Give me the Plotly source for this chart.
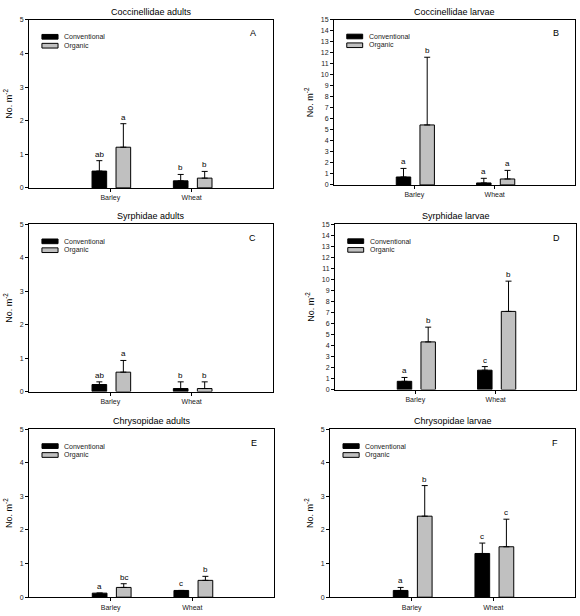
import plotly.graph_objects as go

W, H = 580, 616

crops = ["Barley", "Wheat"]
series = ["Conventional", "Organic"]
panel_titles = ["Coccinellidae adults", "Coccinellidae larvae",
                "Syrphidae adults", "Syrphidae larvae",
                "Chrysopidae adults", "Chrysopidae larvae"]
panel_letters = ["A", "B", "C", "D", "E", "F"]
y_max = [5, 15, 5, 15, 5, 5]

# means and upper error (per panel: [Barley, Wheat])
conv_mean = [[0.5, 0.21], [0.72, 0.18], [0.21, 0.09], [0.75, 1.76], [0.12, 0.2], [0.2, 1.3]]
conv_err = [[0.31, 0.19], [0.78, 0.42], [0.08, 0.2], [0.35, 0.33], [0.0, 0.0], [0.09, 0.31]]
org_mean = [[1.21, 0.29], [5.45, 0.54], [0.58, 0.09], [4.33, 7.1], [0.29, 0.5], [2.41, 1.5]]
org_err = [[0.7, 0.2], [6.15, 0.78], [0.35, 0.2], [1.34, 2.75], [0.11, 0.12], [0.91, 0.82]]
conv_letters = [["ab", "b"], ["a", "a"], ["ab", "b"], ["a", "c"], ["a", "c"], ["a", "c"]]
org_letters = [["a", "b"], ["b", "a"], ["a", "b"], ["b", "b"], ["bc", "b"], ["b", "c"]]

colors = ["#000000", "#c0c0c0"]

# plot areas in pixels: left, right, top, bottom
boxes = [(29, 273, 16, 186), (334, 575, 16, 183),
         (29, 273, 223, 392), (335, 576, 223, 390),
         (29, 274, 430, 600), (330, 575, 430, 600)]

bar_w = 0.18
offsets = [-0.225, 0.07]
font = "Liberation Sans, Arial, sans-serif"

fig = go.Figure()
layout = {}
annotations = []
shapes = []

for i in range(6):
    n = "" if i == 0 else str(i + 1)
    xa, ya = "x" + n, "y" + n
    l, r, t, b = boxes[i]
    means = [conv_mean[i], org_mean[i]]
    errs = [conv_err[i], org_err[i]]
    letters = [conv_letters[i], org_letters[i]]
    for s in range(2):
        fig.add_trace(go.Bar(
            x=[0, 1], y=means[s], name=series[s], showlegend=False,
            width=bar_w, offset=offsets[s],
            marker=dict(color=colors[s], line=dict(color="black", width=1)),
            error_y=dict(type="data", array=errs[s], arrayminus=[0, 0], symmetric=False,
                         visible=True, color="black", thickness=1, width=3),
            xaxis=xa, yaxis=ya,
        ))
        for k in range(2):
            annotations.append(dict(
                x=k + offsets[s] + bar_w / 2, y=means[s][k] + errs[s][k],
                xref=xa, yref=ya, text=letters[s][k], showarrow=False,
                yanchor="bottom", font=dict(size=8, color="black", family=font),
            ))

    axis_common = dict(showline=True, linecolor="black", linewidth=1, mirror=True,
                       showgrid=False, zeroline=False, ticks="outside", ticklen=3,
                       tickcolor="black", tickfont=dict(size=7, color="#222", family=font))
    layout["xaxis" + n] = dict(axis_common, domain=[l / W, r / W], range=[-1, 2],
                               tickvals=[0, 1], ticktext=crops, anchor=ya)
    layout["yaxis" + n] = dict(axis_common, domain=[1 - b / H, 1 - t / H], range=[0, y_max[i]],
                               dtick=1, anchor=xa,
                               title=dict(text="No. m<sup>-2</sup>", standoff=5,
                                          font=dict(size=9, color="black", family=font)))

    # panel title and letter
    annotations.append(dict(x=0.5, y=1, xref=xa + " domain", yref=ya + " domain",
                            text=panel_titles[i], showarrow=False, yanchor="bottom", yshift=1,
                            font=dict(size=9, color="black", family=font)))
    annotations.append(dict(x=0.94, y=0.92, xref=xa + " domain", yref=ya + " domain",
                            text=panel_letters[i], showarrow=False, yanchor="middle",
                            font=dict(size=9, color="black", family=font)))

    # legend swatches
    for s in range(2):
        y0 = 0.885 - s * 0.053
        shapes.append(dict(type="rect", xref=xa + " domain", yref=ya + " domain",
                           x0=0.053, x1=0.119, y0=y0, y1=y0 + 0.028,
                           fillcolor=colors[s], line=dict(color="black", width=1)))
        annotations.append(dict(x=0.135, y=y0 + 0.014, xref=xa + " domain", yref=ya + " domain",
                                text=series[s], showarrow=False, xanchor="left", yanchor="middle",
                                font=dict(size=7, color="#222", family=font)))

fig.update_layout(
    width=W, height=H,
    margin=dict(l=0, r=0, t=0, b=0),
    paper_bgcolor="white", plot_bgcolor="white",
    barmode="overlay", showlegend=False,
    annotations=annotations, shapes=shapes,
    font=dict(family=font),
    **layout,
)

fig.write_html("out.html", config={"displayModeBar": False},
               post_script="document.body.style.margin='0';")
